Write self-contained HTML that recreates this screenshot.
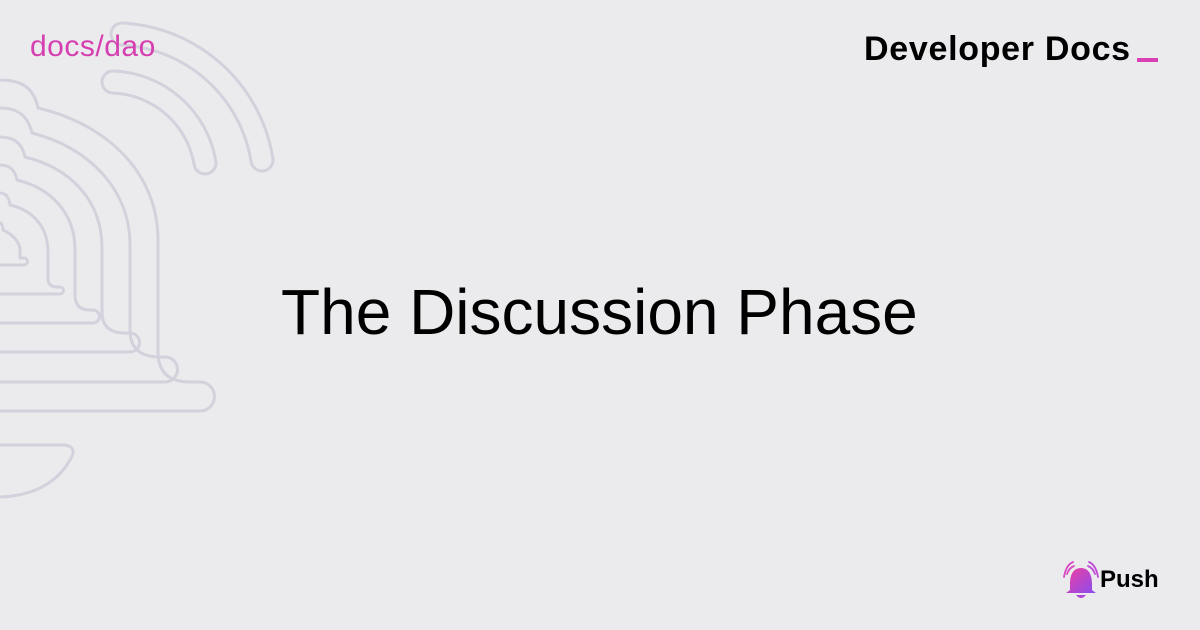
<!DOCTYPE html>
<html><head><style>
html,body{margin:0;padding:0;}
body{width:1200px;height:630px;background:#ebebee;position:relative;overflow:hidden;font-family:"Liberation Sans",sans-serif;}
.t{position:absolute;white-space:nowrap;}
</style></head><body>
<svg width="1200" height="630" style="position:absolute;left:0;top:0" fill="none">
<g stroke="#d3d2dc" stroke-width="3" stroke-linejoin="round">
<path d="M0,80 C22,80 34,88 38,108 C110,125 158,175 158,240 L158,352 Q158,382 190,382 L200,382 A14.5,14.5 0 0 1 200,411 L0,411"/>
<path d="M0,108 C18,108 28,116 32,133 C90,148 130,190 130,245 L130,330 Q130,357 160,357 L165,357 A12.5,12.5 0 0 1 165,382 L0,382"/>
<path d="M0,137 C14,137 22,143 25,157 C70,168 102,200 102,248 L102,312 Q102,333 125,333 L130,333 A9.5,9.5 0 0 1 130,352 L0,352"/>
<path d="M0,165 C10,165 15,170 17,180 C50,188 75,212 75,250 L75,295 Q75,310 90,310 L93,310 A6.5,6.5 0 0 1 93,323 L0,323"/>
<path d="M0,193 C6,193 9,197 10,205 C32,210 48,226 48,252 L48,278 Q48,287 57,287 L60,287 A3.5,3.5 0 0 1 60,294 L0,294"/>
<path d="M0,222 C2,224 3,227 3,230 C12,234 20,242 20,250 L20,258 L24,258 A3.5,3.5 0 0 1 24,265 L0,265"/>
<path d="M0,445 L65,445 Q78,447 70,460 Q50,495 0,497"/>
</g>
<g stroke-linecap="round">
<path d="M122,34 A150,150 0 0 1 262,160" stroke="#d3d2dc" stroke-width="25"/>
<path d="M122,34 A150,150 0 0 1 262,160" stroke="#ebebee" stroke-width="19"/>
<path d="M113,82 A97,97 0 0 1 205,163" stroke="#d3d2dc" stroke-width="25"/>
<path d="M113,82 A97,97 0 0 1 205,163" stroke="#ebebee" stroke-width="19"/>
</g>
<defs><linearGradient id="g" x1="0" y1="0" x2="1" y2="1"><stop offset="0" stop-color="#f03fa0"/><stop offset="1" stop-color="#8a4cf0"/></linearGradient></defs>
<g>
<path d="M1081,568 C1073,568 1070,575 1070,584 L1070,590 L1066,593 L1096,593 L1092,590 L1092,584 C1092,575 1089,568 1081,568 Z" fill="url(#g)"/>
<path d="M1076,595 L1086,595 Q1081,601 1076,595 Z" fill="#b048d8"/>
<path d="M1067,574 Q1069,568 1074,566 M1064,577 Q1066,565 1073,562" stroke="#d847c0" stroke-width="1.8" stroke-linecap="round"/>
<path d="M1095,574 Q1093,568 1088,566 M1098,577 Q1096,565 1089,562" stroke="#c048d8" stroke-width="1.8" stroke-linecap="round"/>
</g>
<rect x="1137" y="58" width="21" height="4" fill="#d940b4"/>
</svg>
<div class="t" style="left:30px;top:30px;font-size:30px;color:#d53fb0;letter-spacing:0.5px;">docs/dao</div>
<div class="t" style="left:864px;top:30px;font-size:34px;font-weight:bold;color:#000;letter-spacing:0.7px;">Developer Docs</div>
<div class="t" style="left:281px;top:275px;font-size:64px;color:#000;">The Discussion Phase</div>
<div class="t" style="left:1100px;top:566px;font-size:24px;font-weight:bold;color:#000;">Push</div>
</body></html>
